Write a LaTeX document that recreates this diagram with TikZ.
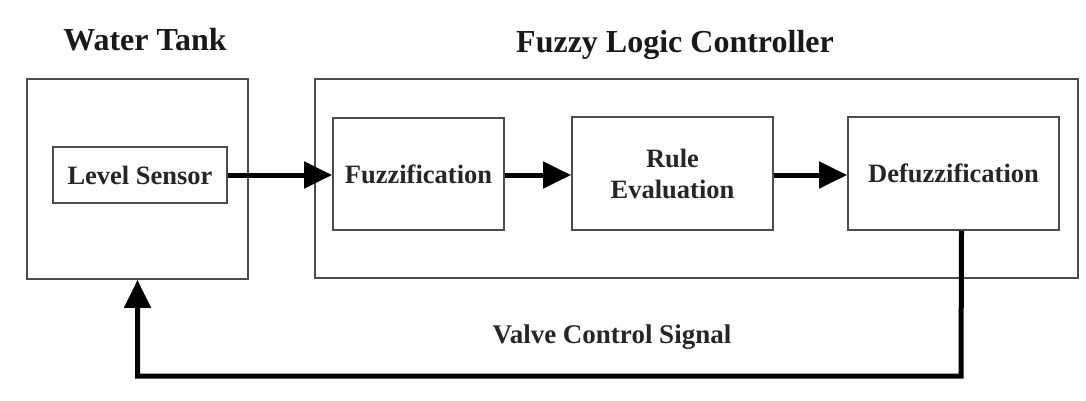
\documentclass[tikz,border=0pt]{standalone}
\usepackage{fontspec}
\setmainfont{Liberation Serif}
\usetikzlibrary{arrows.meta}
\tikzset{
  block/.style={draw=black!70, line width=1.8pt, fill=none, inner sep=0pt,
    font=\fontsize{26.5}{31}\selectfont\bfseries, text=black!85, align=center},
  frame/.style={draw=black!70, line width=1.8pt, inner sep=0pt},
  title/.style={font=\fontsize{32}{38}\selectfont\bfseries, text=black!90, anchor=base, inner sep=0pt},
  caption/.style={font=\fontsize{27}{32}\selectfont\bfseries, text=black!85, anchor=base, inner sep=0pt},
  flow/.style={line width=5pt, -{Triangle[length=28pt,width=26pt]}},
}
\begin{document}
\begin{tikzpicture}[x=1pt, y=-1pt]
  \useasboundingbox[fill=white] (0,0) rectangle (1086,400);

  % outer frames
  \node[frame, minimum width=221pt, minimum height=200pt] (tank) at (137.5,179) {};
  \node[frame, minimum width=763pt, minimum height=199pt] (flc) at (696.5,178.5) {};

  % headings
  \node[title] (ttank) at (145,50) {Water Tank};
  \node[title] (tflc) at (675,52) {Fuzzy Logic Controller};

  % blocks
  \node[block, minimum width=174pt, minimum height=56pt] (ls) at (140,175) {Level Sensor};
  \node[block, minimum width=171pt, minimum height=112pt] (fuzz) at (418.5,174) {Fuzzification};
  \node[block, minimum width=201pt, minimum height=113pt] (rule) at (672.5,173.5) {Rule\\Evaluation};
  \node[block, minimum width=211pt, minimum height=113pt] (defuzz) at (953.5,173.5) {Defuzzification};

  % signal path
  \draw[flow] (ls.east) -- (ls.east -| fuzz.west);
  \draw[flow] (fuzz.east |- 0,175) -- (rule.west |- 0,175);
  \draw[flow] (rule.east |- 0,175) -- (defuzz.west |- 0,175);

  % feedback loop
  \coordinate (fbstart) at ([xshift=8pt]defuzz.south);
  \coordinate (fbcorner) at (961,376);
  \draw[flow, line join=miter] (fbstart) -- (fbcorner) -| (tank.south);

  \node[caption] (valve) at (612,343) {Valve Control Signal};
\end{tikzpicture}
\end{document}
